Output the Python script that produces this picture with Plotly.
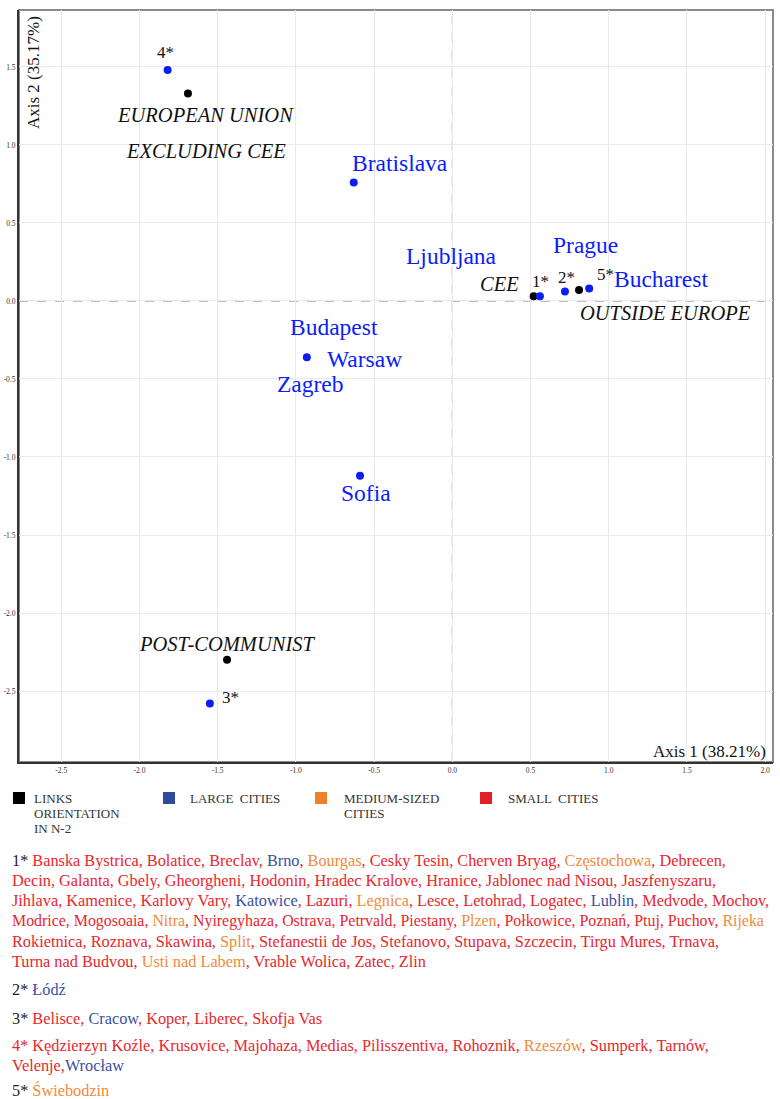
import plotly.graph_objects as go

# ---------------- data ----------------
# group barycentres (black points)
group_names = ["EUROPEAN UNION EXCLUDING CEE", "CEE", "OUTSIDE EUROPE", "POST-COMMUNIST"]
group_x = [-1.69, 0.52, 0.81, -1.44]
group_y = [1.33, 0.03, 0.07, -2.30]

# city / city-cluster points (blue)
city_names = ["4*", "Bratislava", "1*", "2*", "5*", "Budapest/Warsaw/Zagreb", "Sofia", "3*"]
city_x = [-1.82, -0.63, 0.56, 0.72, 0.875, -0.93, -0.59, -1.55]
city_y = [1.48, 0.76, 0.03, 0.06, 0.08, -0.36, -1.12, -2.58]

x_ticks = [-2.5, -2.0, -1.5, -1.0, -0.5, 0.0, 0.5, 1.0, 1.5, 2.0]
y_ticks = [-2.5, -2.0, -1.5, -1.0, -0.5, 0.0, 0.5, 1.0, 1.5]
x_tick_labels = ["-2.5", "-2.0", "-1.5", "-1.0", "-0.5", "0.0", "0.5", "1.0", "1.5", "2.0"]
y_tick_labels = ["-2.5", "-2.0", "-1.5", "-1.0", "-0.5", "0.0", "0.5", "1.0", "1.5"]

axis1_title = "Axis 1 (38.21%)"
axis2_title = "Axis 2 (35.17%)"

legend_items = [(["LINKS", "ORIENTATION", "IN N-2"], "K"), (["LARGE  CITIES"], "L"),
                (["MEDIUM-SIZED", "CITIES"], "M"), (["SMALL  CITIES"], "S")]

# cluster memberships, per printed line: (city, size class)
cluster_1 = [
    [("Banska Bystrica", "S"), ("Bolatice", "S"), ("Breclav", "S"), ("Brno", "L"), ("Bourgas", "M"),
     ("Cesky Tesin", "S"), ("Cherven Bryag", "S"), ("Częstochowa", "M"), ("Debrecen", "S")],
    [("Decin", "S"), ("Galanta", "S"), ("Gbely", "S"), ("Gheorgheni", "S"), ("Hodonin", "S"),
     ("Hradec Kralove", "S"), ("Hranice", "S"), ("Jablonec nad Nisou", "S"), ("Jaszfenyszaru", "S")],
    [("Jihlava", "S"), ("Kamenice", "S"), ("Karlovy Vary", "S"), ("Katowice", "L"), ("Lazuri", "S"),
     ("Legnica", "M"), ("Lesce", "S"), ("Letohrad", "S"), ("Logatec", "S"), ("Lublin", "L"),
     ("Medvode", "S"), ("Mochov", "S")],
    [("Modrice", "S"), ("Mogosoaia", "S"), ("Nitra", "M"), ("Nyiregyhaza", "S"), ("Ostrava", "S"),
     ("Petrvald", "S"), ("Piestany", "S"), ("Plzen", "M"), ("Połkowice", "S"), ("Poznań", "S"),
     ("Ptuj", "S"), ("Puchov", "S"), ("Rijeka", "M")],
    [("Rokietnica", "S"), ("Roznava", "S"), ("Skawina", "S"), ("Split", "M"), ("Stefanestii de Jos", "S"),
     ("Stefanovo", "S"), ("Stupava", "S"), ("Szczecin", "S"), ("Tirgu Mures", "S"), ("Trnava", "S")],
    [("Turna nad Budvou", "S"), ("Usti nad Labem", "M"), ("Vrable Wolica", "S"), ("Zatec", "S"), ("Zlin", "S")],
]
cluster_2 = [[("Łódź", "L")]]
cluster_3 = [[("Belisce", "S"), ("Cracow", "L"), ("Koper", "S"), ("Liberec", "S"), ("Skofja Vas", "S")]]
cluster_4 = [
    [("Kędzierzyn Koźle", "S"), ("Krusovice", "S"), ("Majohaza", "S"), ("Medias", "S"),
     ("Pilisszentiva", "S"), ("Rohoznik", "S"), ("Rzeszów", "M"), ("Sumperk", "S"), ("Tarnów", "S")],
    [("Velenje", "S"), ("Wrocław", "L")],
]
cluster_5 = [[("Świebodzin", "M")]]
clusters = [("1*", cluster_1), ("2*", cluster_2), ("3*", cluster_3), ("4*", cluster_4), ("5*", cluster_5)]

# ---------------- styling ----------------
W, H = 780, 1099
ML, MR, MT, MB = 19, 7, 10, 337
PW, PH = W - ML - MR, H - MT - MB
SERIF = "Liberation Serif"
BLUE_PT = "#0a1ef5"
TXT_COL = {"S": "#e8262d", "M": "#f08a3c", "L": "#3a4fa3", "K": "#222222"}
SQ_COL = {"S": "#e21f26", "M": "#f07f2a", "L": "#2f4b9b", "K": "#000000"}


def px_to_paper(px, py):
    return (px - ML) / PW, (H - MB - py) / PH


fig = go.Figure()
fig.add_trace(go.Scatter(x=group_x, y=group_y, mode="markers", text=group_names,
                         marker=dict(color="black", size=8), hoverinfo="text", showlegend=False))
fig.add_trace(go.Scatter(x=city_x, y=city_y, mode="markers", text=city_names,
                         marker=dict(color=BLUE_PT, size=8), hoverinfo="text", showlegend=False))

ann = []
# point labels: (text, series, index, dx, dy, kind)
labels = [
    ("4*", "c", 0, -2, 18, "star"),
    ("EUROPEAN UNION", "g", 0, 18, -22, "group"),
    ("EXCLUDING CEE", "g", 0, 18, -58, "group"),
    ("Bratislava", "c", 1, 46, 19, "city"),
    ("Ljubljana", "c", 2, -88, 40, "city"),
    ("Prague", "c", 3, 21, 47, "city"),
    ("CEE", "g", 1, -34, 12, "group"),
    ("1*", "c", 2, 1, 15, "star"),
    ("2*", "c", 3, 2, 14, "star"),
    ("5*", "c", 4, 16, 14, "star"),
    ("Bucharest", "c", 4, 72, 9, "city"),
    ("OUTSIDE EUROPE", "g", 2, 86, -23, "group"),
    ("Budapest", "c", 5, 27, 30, "city"),
    ("Warsaw", "c", 5, 58, -2, "city"),
    ("Zagreb", "c", 5, 4, -27, "city"),
    ("Sofia", "c", 6, 6, -17, "city"),
    ("POST-COMMUNIST", "g", 3, 0, 16, "group"),
    ("3*", "c", 7, 21, 6, "star"),
]
styles = {
    "star": dict(size=17, color="#111111", family=SERIF),
    "group": dict(size=20.5, color="#111111", family=SERIF, style="italic"),
    "city": dict(size=23.5, color=BLUE_PT, family=SERIF),
}
for text, ser, i, dx, dy, kind in labels:
    xs, ys = (city_x, city_y) if ser == "c" else (group_x, group_y)
    ann.append(dict(x=xs[i], y=ys[i], xref="x", yref="y", text=text, showarrow=False,
                    xshift=dx, yshift=dy, xanchor="center", yanchor="middle", font=styles[kind]))

# axis titles inside the plot
ax, ay = px_to_paper(33, 73)
ann.append(dict(x=ax, y=ay, xref="paper", yref="paper", text=axis2_title, textangle=-90,
                showarrow=False, xanchor="center", yanchor="middle",
                font=dict(size=17, color="#111111", family=SERIF)))
bx, by = px_to_paper(768, 751)
ann.append(dict(x=bx, y=by, xref="paper", yref="paper", text=axis1_title, showarrow=False,
                xanchor="right", yanchor="middle", font=dict(size=17, color="#111111", family=SERIF)))

# legend row
shapes = []
legend_pos = [(13, 32), (163, 188), (315, 342), (480, 506)]
for (lines, cls), (sqx, tx) in zip(legend_items, legend_pos):
    x0, y0 = px_to_paper(sqx, 792)
    x1, y1 = px_to_paper(sqx + 12, 804)
    shapes.append(dict(type="rect", xref="paper", yref="paper", x0=x0, x1=x1, y0=y0, y1=y1,
                       fillcolor=SQ_COL[cls], line=dict(width=0)))
    for k, line in enumerate(lines):
        txp, typ = px_to_paper(tx, 798 + 15 * k)
        ann.append(dict(x=txp, y=typ, xref="paper", yref="paper", text=line, showarrow=False,
                        xanchor="left", yanchor="middle", align="left",
                        font=dict(size=13, color="#333333", family=SERIF)))

# cluster membership text
line_y = {"1*": [860, 880.5, 900.5, 921, 941, 961], "2*": [989], "3*": [1018],
          "4*": [1045, 1065.5], "5*": [1090]}
comma_col = TXT_COL["S"]
for tag, lines in clusters:
    for li, items in enumerate(lines):
        parts = []
        if li == 0:
            tcol = TXT_COL["S"] if tag == "4*" else TXT_COL["K"]
            parts.append(f'<span style="color:{tcol}">{tag} </span>')
        last_line = li == len(lines) - 1
        long_line = tag == "1*" and li == 3
        for j, (name, cls) in enumerate(items):
            parts.append(f'<span style="color:{TXT_COL[cls]}">{name}</span>')
            if (j < len(items) - 1 or not last_line) and not (long_line and j == len(items) - 1):
                sep = "," if (tag == "4*" and last_line and j == 0) else ", "
                parts.append(f'<span style="color:{comma_col}">{sep}</span>')
        xp, yp = px_to_paper(10, line_y[tag][li])
        ann.append(dict(x=xp, y=yp, xref="paper", yref="paper", text="".join(parts), showarrow=False,
                        xanchor="left", yanchor="middle", align="left",
                        font=dict(size=15.9 if long_line else 16.3, family=SERIF, color=TXT_COL["S"])))

# dashed origin lines and gray frame
shapes.append(dict(type="line", xref="x", yref="paper", x0=0, x1=0, y0=0, y1=1,
                   line=dict(color="#777777", width=1, dash="dash"), layer="below"))
shapes.append(dict(type="line", xref="paper", yref="y", x0=0, x1=1, y0=0, y1=0,
                   line=dict(color="#777777", width=1, dash="dash"), layer="below"))
shapes.append(dict(type="rect", xref="paper", yref="paper", x0=0, x1=1, y0=0, y1=1,
                   line=dict(color="#8a8a8a", width=2), layer="below"))

fig.update_layout(
    width=W, height=H, margin=dict(l=ML, r=MR, t=MT, b=MB, autoexpand=False),
    paper_bgcolor="white", plot_bgcolor="white",
    annotations=ann, shapes=shapes, showlegend=False,
    font=dict(family=SERIF),
)
fig.update_xaxes(range=[-2.77, 2.05], tickvals=x_ticks, ticktext=x_tick_labels, automargin=False,
                 showgrid=True, gridcolor="#e9e9e9", gridwidth=1, zeroline=False,
                 showline=True, linecolor="#333333", linewidth=2, ticks="",
                 tickfont=dict(size=7.5, color="#333333", family=SERIF))
fig.update_yaxes(range=[-2.955, 1.865], tickvals=y_ticks, ticktext=y_tick_labels, automargin=False,
                 showgrid=True, gridcolor="#e9e9e9", gridwidth=1, zeroline=False,
                 showline=True, linecolor="#333333", linewidth=2, ticks="",
                 tickfont=dict(size=7.5, color="#333333", family=SERIF))

fig.write_html("out.html", config={"displayModeBar": False},
               post_script="document.body.style.margin='0';")
